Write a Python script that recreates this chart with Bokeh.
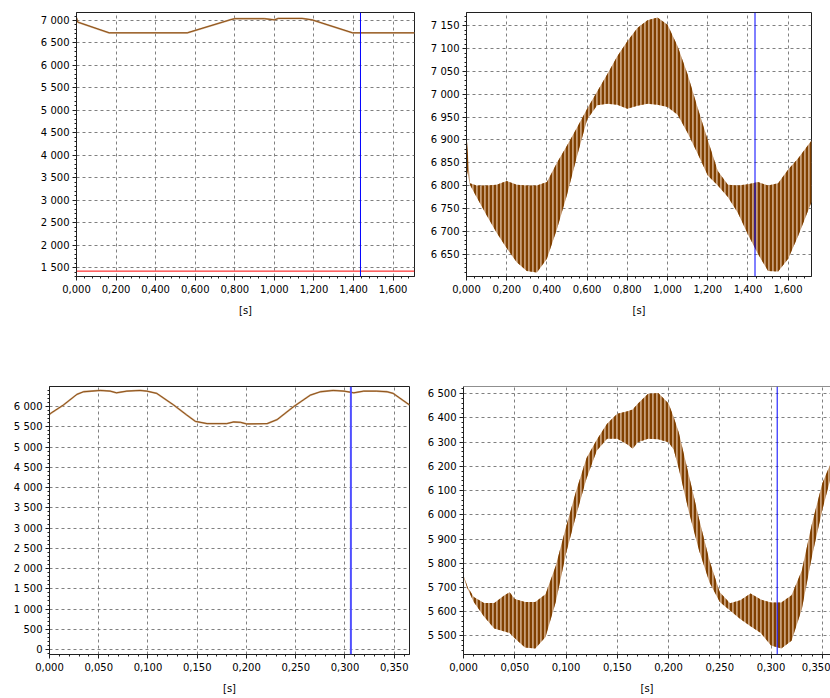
from bokeh.plotting import figure
from bokeh.layouts import column, row
from bokeh.models import Range1d, Span, SingleIntervalTicker, CustomJSTickFormatter
from bokeh.embed import file_html
from bokeh.resources import INLINE

# ---------------- data ----------------
# Panel 1 (top-left): averaged speed, full range
p1_t = [0.000, 0.006, 0.165, 0.560, 0.780, 0.800, 0.950, 1.000, 1.020, 1.140, 1.190, 1.395, 1.708]
p1_v = [7060, 6965, 6726, 6726, 7020, 7040, 7040, 7015, 7045, 7045, 7015, 6726, 6726]
p1_lim_t = [0.000, 1.708]
p1_lim_v = [1420, 1420]

# Panel 2 (top-right): ripple envelope, zoomed y
p2_t = [0.000, 0.017, 0.050, 0.100, 0.150, 0.200, 0.250, 0.300, 0.350, 0.400, 0.450, 0.500,
        0.550, 0.600, 0.650, 0.700, 0.750, 0.800, 0.850, 0.900, 0.950, 1.000, 1.050, 1.100,
        1.150, 1.200, 1.250, 1.300, 1.350, 1.400, 1.450, 1.500, 1.550, 1.600, 1.650, 1.716]
p2_hi = [6913, 6805, 6800, 6800, 6802, 6810, 6802, 6800, 6800, 6808, 6850, 6888,
         6927, 6968, 7006, 7044, 7083, 7116, 7145, 7162, 7168, 7152, 7105, 7043,
         6970, 6900, 6832, 6802, 6800, 6803, 6808, 6800, 6805, 6835, 6860, 6899]
p2_lo = [6840, 6802, 6775, 6735, 6697, 6663, 6632, 6613, 6610, 6640, 6705, 6780,
         6865, 6945, 6976, 6979, 6977, 6968, 6975, 6979, 6977, 6972, 6955, 6915,
         6870, 6822, 6800, 6775, 6740, 6693, 6650, 6613, 6612, 6640, 6690, 6764]

# Panel 3 (bottom-left): averaged speed, short window
p3_t = [0.000, 0.001, 0.0142, 0.0278, 0.0345, 0.0515, 0.0616, 0.068, 0.0785, 0.092, 0.0988,
        0.109, 0.126, 0.139, 0.148, 0.160, 0.180, 0.187, 0.194, 0.200, 0.221, 0.231, 0.248,
        0.265, 0.275, 0.288, 0.299, 0.309, 0.319, 0.332, 0.343, 0.349, 0.3655]
p3_v = [5800, 5830, 6040, 6300, 6365, 6397, 6381, 6340, 6381, 6397, 6381,
        6324, 6040, 5797, 5635, 5579, 5579, 5619, 5611, 5570, 5579, 5676, 6000,
        6284, 6365, 6397, 6381, 6340, 6381, 6381, 6365, 6324, 6040]

# Panel 4 (bottom-right): ripple envelope, short window
p4_t = [0.000, 0.004, 0.010, 0.020, 0.030, 0.040, 0.045, 0.050, 0.060, 0.070, 0.080, 0.090,
        0.100, 0.110, 0.120, 0.130, 0.140, 0.150, 0.160, 0.165, 0.170, 0.180, 0.190, 0.200,
        0.205, 0.210, 0.220, 0.230, 0.240, 0.250, 0.260, 0.270, 0.280, 0.290, 0.300, 0.310,
        0.320, 0.330, 0.340, 0.350, 0.358]
p4_hi = [5750, 5702, 5660, 5636, 5636, 5668, 5680, 5652, 5640, 5640, 5672, 5790,
         5950, 6100, 6235, 6310, 6376, 6417, 6428, 6435, 6459, 6500, 6503, 6460,
         6404, 6340, 6160, 5980, 5810, 5680, 5635, 5647, 5675, 5650, 5638, 5638,
         5668, 5770, 5965, 6130, 6211]
p4_lo = [5740, 5695, 5640, 5580, 5530, 5518, 5512, 5490, 5452, 5448, 5495, 5640,
         5840, 6000, 6150, 6265, 6314, 6314, 6290, 6273, 6300, 6314, 6312, 6300,
         6270, 6190, 6010, 5850, 5720, 5640, 5605, 5570, 5540, 5512, 5460, 5448,
         5480, 5610, 5830, 6020, 6150]

cursor_top = 1.435
cursor_bottom = 0.306

# ---------------- style ----------------
DARK = "#804000"
TAN = "#C8A07A"
FONT = "DejaVu Sans"

yfmt_code = """
const s = Math.round(tick).toString();
return s.replace(/\\B(?=(\\d{3})+(?!\\d))/g, " ");
"""
xfmt_code = """
return tick.toFixed(3).replace('.', ',');
"""


def make(width, height, bl, br, bt, bb, xr, yr, xint, yint, outline=True):
    p = figure(width=width, height=height, output_backend="svg", toolbar_location=None,
               x_range=Range1d(*xr), y_range=Range1d(*yr),
               min_border_left=bl, min_border_right=br, min_border_top=bt, min_border_bottom=bb)
    p.background_fill_color = "white"
    p.border_fill_color = "white"
    p.outline_line_color = "#202020" if outline else None
    p.outline_line_width = 1
    p.xaxis.ticker = SingleIntervalTicker(interval=xint, num_minor_ticks=5)
    p.yaxis.ticker = SingleIntervalTicker(interval=yint, num_minor_ticks=5)
    p.xaxis.formatter = CustomJSTickFormatter(code=xfmt_code)
    p.yaxis.formatter = CustomJSTickFormatter(code=yfmt_code)
    p.xaxis.axis_label = "[s]"
    for ax in (p.xaxis, p.yaxis):
        ax.axis_line_color = "#202020"
        ax.major_tick_line_color = "#202020"
        ax.minor_tick_line_color = "#202020"
        ax.major_tick_out = 4
        ax.major_tick_in = 0
        ax.minor_tick_out = 2
        ax.minor_tick_in = 0
        ax.major_label_text_font = FONT
        ax.major_label_text_font_size = "10px"
        ax.major_label_text_color = "#000000"
        ax.major_label_standoff = 3
        ax.axis_label_text_font = FONT
        ax.axis_label_text_font_size = "10px"
        ax.axis_label_text_font_style = "normal"
        ax.axis_label_text_color = "#000000"
        ax.axis_label_standoff = 9
    p.xaxis.major_label_standoff = 4
    p.grid.grid_line_color = "#808080"
    p.grid.grid_line_dash = "3 3"
    p.grid.grid_line_width = 1
    return p


def band(p, t, lo, hi):
    p.varea(x=t, y1=lo, y2=hi, fill_color=TAN, hatch_pattern="vertical_line",
            hatch_color=DARK, hatch_scale=4, hatch_weight=2.5)


# Panel 1
p1 = make(420, 370, 76, 6, 12, 93, (0, 1.708), (1300, 7178), 0.2, 500)
p1.line(p1_lim_t, p1_lim_v, line_color="#FF0000", line_width=1)
p1.line(p1_t, p1_v, line_color=TAN, line_width=1.8)
p1.line(p1_t, p1_v, line_color=DARK, line_width=0.8)
p1.add_layout(Span(location=cursor_top, dimension="height", line_color="#0000FF", line_width=1))

# Panel 2
p2 = make(410, 370, 46, 19, 10, 94, (0, 1.716), (6601, 7179), 0.2, 50)
band(p2, p2_t, p2_lo, p2_hi)
p2.add_layout(Span(location=cursor_top, dimension="height", line_color="#0000FF", line_width=1))

# Panel 3
p3 = make(420, 328, 49, 11, 13, 42, (0, 0.3655), (-122, 6495), 0.05, 500)
p3.line(p3_t, p3_v, line_color=TAN, line_width=1.8)
p3.line(p3_t, p3_v, line_color=DARK, line_width=0.8)
p3.add_layout(Span(location=cursor_bottom, dimension="height", line_color="#5050FF", line_width=2))

# Panel 4
p4 = make(410, 328, 43, 0, 16, 44, (0, 0.358), (5423, 6530), 0.05, 100, outline=False)
band(p4, p4_t, p4_lo, p4_hi)
p4.add_layout(Span(location=cursor_bottom, dimension="height", line_color="#0000FF", line_width=1))
p4.add_layout(Span(location=6530, dimension="width", line_color="#202020", line_width=1))

layout = column(row(p1, p2), row(p3, p4))

open("out.html", "w").write(file_html(layout, INLINE))
